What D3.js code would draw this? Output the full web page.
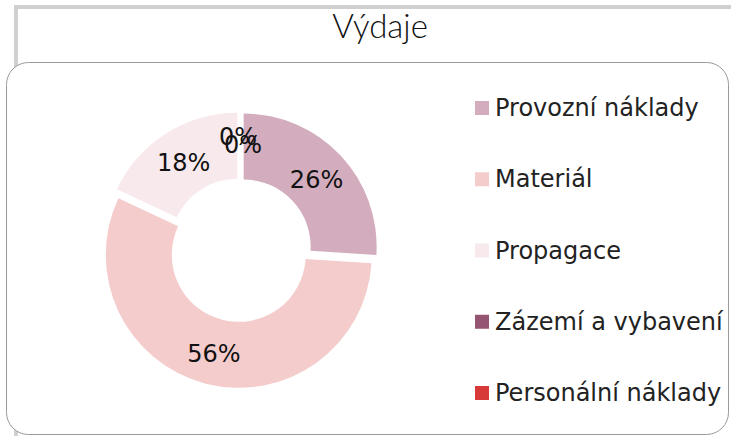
<!DOCTYPE html>
<html>
<head>
<meta charset="utf-8">
<script src="https://cdn.jsdelivr.net/npm/d3@7"></script>
<style>
  body { margin: 0; background: #fff; }
  svg { display: block; }
</style>
</head>
<body>
<svg width="731" height="436"></svg>
<script>
  const categories = ['Provozní náklady', 'Materiál', 'Propagace', 'Zázemí a vybavení', 'Personální náklady'];
  const values = [26, 56, 18, 0, 0];
  const colors = ['#d3adbe', '#f4cccc', '#f8e9ec', '#965473', '#d73838'];
  const title = 'Výdaje';

  const svg = d3.select('svg');

  // outer grey frame (partly hidden behind the rounded panel)
  svg.append('rect')
    .attr('x', 16).attr('y', 7)
    .attr('width', 740).attr('height', 460)
    .attr('fill', '#fff')
    .attr('stroke', '#d0d0d0')
    .attr('stroke-width', 4);

  svg.append('text')
    .attr('x', 380).attr('y', 38)
    .attr('text-anchor', 'middle')
    .style('font', '300 33px Lato')
    .attr('fill', '#111')
    .text(title);

  // rounded panel
  svg.append('rect')
    .attr('x', 6.5).attr('y', 62.5)
    .attr('width', 722).attr('height', 372)
    .attr('rx', 22)
    .attr('fill', '#fff')
    .attr('stroke', '#9a9a9a')
    .attr('stroke-width', 1);

  const cx = 240, cy = 250;
  const outerR = 133, innerR = 67, explode = 5;

  const pie = d3.pie().sort(null).value(d => d);
  const arcs = pie(values);
  const arc = d3.arc().innerRadius(innerR).outerRadius(outerR);
  const labelArc = d3.arc().innerRadius(100).outerRadius(100);

  const shift = d => {
    const a = (d.startAngle + d.endAngle) / 2;
    return [explode * Math.sin(a), -explode * Math.cos(a)];
  };

  const g = svg.append('g').attr('transform', `translate(${cx},${cy})`);

  g.selectAll('path').data(arcs).enter().append('path')
    .attr('d', arc)
    .attr('fill', (d, i) => colors[i])
    .attr('transform', d => `translate(${shift(d)})`);

  // empty slices get stacked labels, like the original overlap
  let zeroCount = 0;
  g.selectAll('text').data(arcs).enter().append('text')
    .attr('transform', d => {
      const [x, y] = labelArc.centroid(d);
      const [sx, sy] = shift(d);
      let nx = 0, ny = 2;
      if (d.data === 0) {
        nx = -2 + zeroCount * 5;
        ny = -8 + zeroCount * 8;
        zeroCount++;
      }
      return `translate(${x + sx + nx},${y + sy + ny})`;
    })
    .attr('text-anchor', 'middle')
    .attr('dominant-baseline', 'central')
    .style('font', '24px "DejaVu Sans"')
    .attr('fill', '#111')
    .text(d => d.data + '%');

  // legend
  const legendY = d3.scalePoint()
    .domain(categories)
    .range([108, 393]);

  const lg = svg.append('g');
  const item = lg.selectAll('g').data(categories).enter().append('g')
    .attr('transform', d => `translate(475,${legendY(d)})`);

  item.append('rect')
    .attr('x', 0).attr('y', -7)
    .attr('width', 14).attr('height', 14)
    .attr('fill', (d, i) => colors[i]);

  item.append('text')
    .attr('x', 20).attr('y', 0)
    .attr('dominant-baseline', 'central')
    .style('font', '24px "DejaVu Sans"')
    .attr('fill', '#222')
    .text(d => d);
</script>
</body>
</html>
